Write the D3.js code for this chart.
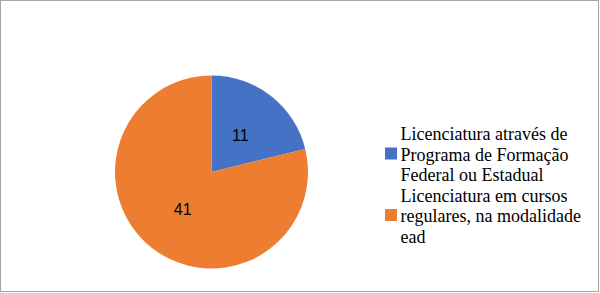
<!DOCTYPE html>
<html><head><meta charset="utf-8">
<script src="https://cdn.jsdelivr.net/npm/d3@7"></script>
<style>html,body{margin:0;padding:0;background:#fff;}svg{display:block;}
.leg{font-family:"Liberation Serif","Times New Roman",serif;}
.lab{font-family:"Liberation Sans",Arial,sans-serif;}</style>
</head><body>
<svg id="c" width="600" height="293"></svg>
<script>
const categories = [
  ["Licenciatura através de", "Programa de Formação", "Federal ou Estadual"],
  ["Licenciatura em cursos", "regulares, na modalidade", "ead"]
];
const values = [11, 41];
const colors = ["#4472C4", "#ED7D31"];

const svg = d3.select("#c");
svg.append("rect").attr("x", 0.5).attr("y", 0.5).attr("width", 598).attr("height", 291)
  .attr("fill", "#fff").attr("stroke", "#a5a5a5").attr("stroke-width", 1);

const cx = 211.5, cy = 172, r = 96.5;
const pie = d3.pie().sort(null).value(d => d)(values);
const arc = d3.arc().innerRadius(0).outerRadius(r);
const labelArc = d3.arc().innerRadius(r * 0.97).outerRadius(0);
const g = svg.append("g").attr("transform", `translate(${cx},${cy})`);
g.selectAll("path").data(pie).join("path")
  .attr("d", arc).attr("fill", (d, i) => colors[i]);
g.selectAll("text").data(pie).join("text")
  .attr("class", "lab")
  .attr("transform", d => { const c = labelArc.centroid(d); return `translate(${c[0]},${c[1]})`; })
  .attr("text-anchor", "middle").attr("dy", "0.36em")
  .attr("font-size", 16)
  .attr("fill", "#000").text(d => d.data);

const leg = svg.append("g");
const lineH = 20.5;
const starts = [140, 201.5];
categories.forEach((lines, i) => {
  const y0 = starts[i];
  leg.append("rect").attr("x", 385).attr("y", y0 + lineH - 13).attr("width", 12).attr("height", 12)
    .attr("fill", colors[i]);
  const t = leg.append("text").attr("class", "leg").attr("x", 400.5).attr("y", y0)
    .attr("font-size", 18)
    .attr("fill", "#000");
  lines.forEach((l, j) => t.append("tspan").attr("x", 400.5).attr("y", y0 + j * lineH).text(l));
});
</script>
</body></html>
